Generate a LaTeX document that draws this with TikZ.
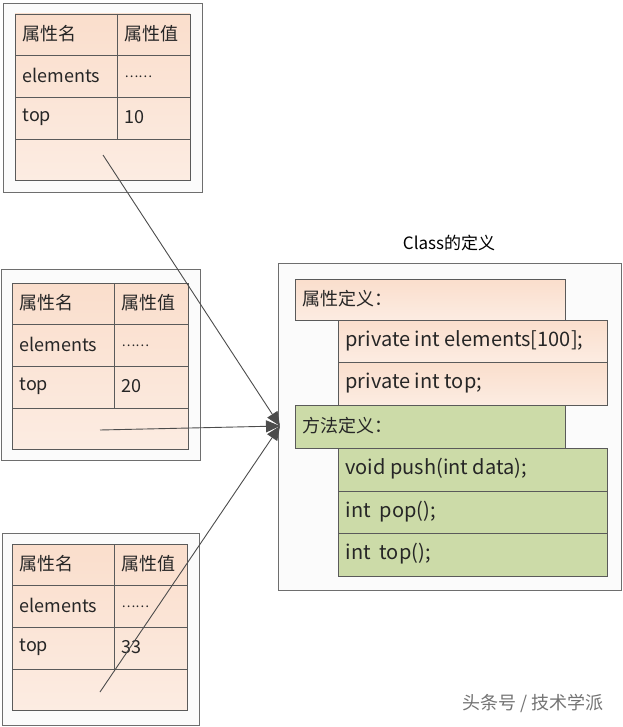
\documentclass[tikz,border=0pt]{standalone}
\usepackage{fontspec}
\setmainfont{Noto Sans CJK SC}
\usetikzlibrary{arrows.meta}
\definecolor{peach}{RGB}{250,222,204}
\definecolor{peachl}{RGB}{252,236,226}
\definecolor{grn}{RGB}{204,219,168}
\definecolor{bord}{RGB}{90,90,90}
\definecolor{obord}{RGB}{110,110,110}
\tikzset{
  outerbox/.style={draw=obord,fill=white!97!gray,line width=0.8pt},
  pcell/.style={draw=bord,top color=peach,bottom color=peachl,line width=0.6pt},
  gcell/.style={draw=bord,fill=grn,line width=0.6pt},
  txt/.style={anchor=west,font=\fontsize{18}{20}\selectfont,text=black!85},
  ctxt/.style={anchor=west,font=\fontsize{20}{22}\selectfont,text=black!85},
  arr/.style={draw=black!70,line width=0.9pt,-{Triangle[length=14pt,width=12pt,fill=black!70]}}
}
\begin{document}
\begin{tikzpicture}[x=1pt,y=-1pt]
\useasboundingbox (0,0) rectangle (622,727);
\foreach \ox/\oy/\ot/\ob/\tx/\tr/\cx/\ty/\val/\nm in {3/3/202/192/15/190/117/14/10/a,1/269/200/460/12/188/114/283/20/b,2/533/199/725/12/187/114/544/33/c}{
  \draw[outerbox] (\ox,\oy) rectangle (\ot,\ob);
  \path[pcell] (\tx,\ty) rectangle (\tr,\ty+166);
  \draw[bord,line width=0.6pt] (\tx,\ty+41) -- (\tr,\ty+41) (\tx,\ty+83) -- (\tr,\ty+83) (\tx,\ty+125) -- (\tr,\ty+125) (\cx,\ty) -- (\cx,\ty+125);
  \node[txt] (n1\nm) at (\tx+4,\ty+20) {属性名};
  \node[txt] (n2\nm) at (\cx+4,\ty+20) {属性值};
  \node[txt] (n3\nm) at (\tx+4,\ty+61) {elements};
  \node[txt,font=\fontsize{13}{15}\selectfont] (n4\nm) at (\cx+4,\ty+63) {\ldots\ldots};
  \node[txt] (n5\nm) at (\tx+4,\ty+103) {top};
  \node[txt] (n6\nm) at (\cx+4,\ty+103) {\val};
}
\draw[outerbox] (278,263) rectangle (621,590);
\node[font=\fontsize{17}{19}\selectfont] (title) at (449,243) {Class的定义};
\draw[pcell] (295,279) rectangle (565,320); \node[txt] (pa) at (299,299) {属性定义：};
\draw[pcell] (338,320) rectangle (607,362); \node[ctxt] (pb) at (342,341) {private int elements[100];};
\draw[pcell] (338,362) rectangle (607,405); \node[ctxt] (pc) at (342,383) {private int top;};
\draw[gcell] (295,405) rectangle (565,448); \node[txt] (ma) at (299,426) {方法定义：};
\draw[gcell] (338,448) rectangle (607,491); \node[ctxt] (mb) at (342,469) {void push(int data);};
\draw[gcell] (338,491) rectangle (607,533); \node[ctxt] (mc) at (342,512) {int\ \ pop();};
\draw[gcell] (338,533) rectangle (607,576); \node[ctxt] (md) at (342,554) {int\ \ top();};
\coordinate (s1) at (103,155);
\coordinate (s2) at (100,430);
\coordinate (s3) at (100,692);
\coordinate (t) at (280,426);
\draw[arr] (s1) -- (t);
\draw[arr] (s2) -- (t);
\draw[arr] (s3) -- (t);
\node[text=black!55,font=\fontsize{18}{20}\selectfont] (wm) at (533,703) {头条号 / 技术学派};
\end{tikzpicture}
\end{document}
